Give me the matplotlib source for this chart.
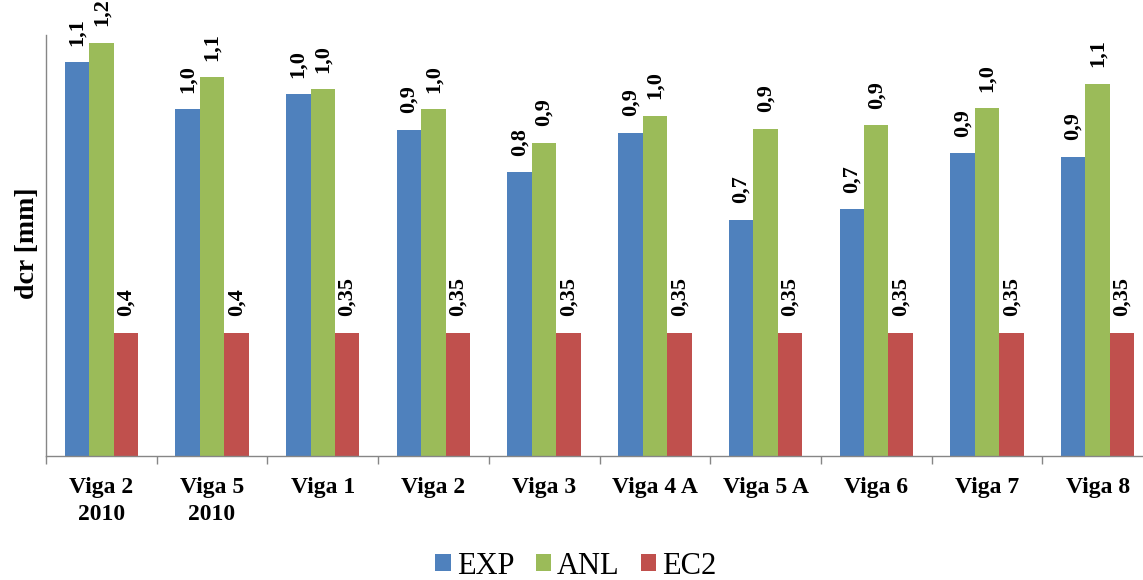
import matplotlib
matplotlib.use("Agg")
import matplotlib.pyplot as plt
import numpy as np
from decimal import Decimal, ROUND_HALF_UP

categories = ["Viga 2\n2010", "Viga 5\n2010", "Viga 1", "Viga 2", "Viga 3",
              "Viga 4 A", "Viga 5 A", "Viga 6", "Viga 7", "Viga 8"]
series_names = ["EXP", "ANL", "EC2"]
exp_values = [1.117, 0.984, 1.027, 0.925, 0.805, 0.917, 0.670, 0.700, 0.859, 0.850]
anl_values = [1.173, 1.075, 1.041, 0.984, 0.889, 0.965, 0.929, 0.939, 0.987, 1.056]
ec2_values = [0.35] * 10
exp_decimals = [1] * 10
anl_decimals = [1] * 10
ec2_decimals = [1, 1, 2, 2, 2, 2, 2, 2, 2, 2]

colors = ["#4F81BD", "#9BBB59", "#C0504D"]


def fmt(v, d):
    q = Decimal(str(v)).quantize(Decimal(1).scaleb(-d), rounding=ROUND_HALF_UP)
    return str(q).replace(".", ",")


plt.rcParams["font.family"] = ["Liberation Serif", "DejaVu Serif"]

W, H = 1143, 580
fig = plt.figure(figsize=(W / 100, H / 100), dpi=100)
ax = fig.add_axes([46 / W, (H - 456) / H, 1107 / W, 421 / H])

x = np.arange(len(categories))
bw = 0.221
all_vals = [exp_values, anl_values, ec2_values]
all_dec = [exp_decimals, anl_decimals, ec2_decimals]
handles = []
for i, (vals, decs, name, c) in enumerate(zip(all_vals, all_dec, series_names, colors)):
    pos = x + (i - 1) * bw
    bars = ax.bar(pos, vals, width=bw, color=c, label=name, zorder=2)
    handles.append(bars)
    for p, v, d in zip(pos, vals, decs):
        ax.annotate(fmt(v, d), xy=(p, v), xytext=(0, 12), textcoords="offset points",
                    rotation=90, ha="center", va="bottom", fontsize=16,
                    fontweight="bold", annotation_clip=False, clip_on=False)

ax.set_xlim(-0.5, len(categories) - 0.5)
ax.set_ylim(0, 1.195)
ax.set_yticks([])
ax.set_xticks(x)
ax.set_xticklabels(categories, fontsize=17, fontweight="bold", linespacing=1.4)
ax.set_xticks(np.arange(-0.5, len(categories)), minor=True)
ax.tick_params(axis="x", which="major", length=0, pad=15)
ax.tick_params(axis="x", which="minor", length=6, width=1, color="#868686")

for s in ["top", "right"]:
    ax.spines[s].set_visible(False)
for s in ["left", "bottom"]:
    ax.spines[s].set_color("#868686")
    ax.spines[s].set_linewidth(1)

fig.text(28 / W, 1 - 243 / H, "dcr [mm]", rotation=90, ha="center", va="center",
         fontsize=20, fontweight="bold")

fig.legend(handles=handles, labels=series_names, loc="center",
           bbox_to_anchor=(0.504, 1 - 566 / H), ncol=3, frameon=False,
           fontsize=22, handlelength=0.5, handleheight=0.5, handletextpad=0.2,
           columnspacing=0.7, borderpad=0)

fig.savefig("out.png", dpi=100)
